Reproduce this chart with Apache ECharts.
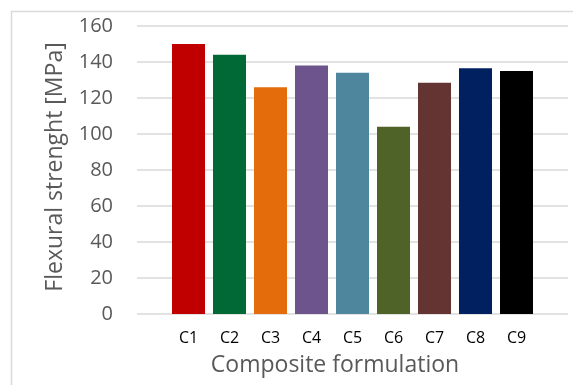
<!DOCTYPE html>
<html>
<head>
<meta charset="utf-8">
<script src="https://cdn.jsdelivr.net/npm/echarts@6/dist/echarts.min.js"></script>
<style>
  html, body { margin: 0; padding: 0; background: #fff; }
  #chart { width: 573px; height: 385px; }
</style>
</head>
<body>
<div id="chart"></div>
<script>
// Flexural strength per composite formulation
const categories = ['C1', 'C2', 'C3', 'C4', 'C5', 'C6', 'C7', 'C8', 'C9'];
const strength = [150, 144, 126, 138, 134, 104, 128.5, 136.5, 135];
const barColors = ['#C00000', '#006935', '#E46C0A', '#6D548D', '#4E869E',
                   '#4F6228', '#633431', '#002060', '#000000'];
const yTicks = { min: 0, max: 160, interval: 20 };

const FONT = '"Open Sans", "Liberation Sans", sans-serif';
const chart = echarts.init(document.getElementById('chart'), null, { renderer: 'canvas' });

chart.setOption({
  animation: false,
  backgroundColor: '#ffffff',
  graphic: [{
    type: 'rect',
    shape: { x: 11.5, y: 11.5, width: 620, height: 420 },
    style: { fill: 'none', stroke: '#d9d9d9', lineWidth: 1.5 },
    silent: true
  }],
  grid: [
    // full plot area: carries the value axis and its gridlines
    { left: 137, right: 5, top: 26, bottom: 71 },
    // inner band where the bars sit
    { left: 168, right: 36, top: 26, bottom: 71 }
  ],
  xAxis: [
    { gridIndex: 0, type: 'category', data: [''], show: false },
    {
      gridIndex: 1,
      type: 'category',
      data: categories,
      axisLine: { show: false },
      axisTick: { show: false },
      axisLabel: { color: '#000000', fontFamily: FONT, fontSize: 16, margin: 16 },
      name: 'Composite formulation',
      nameLocation: 'middle',
      nameGap: 40,
      nameTextStyle: { color: '#595959', fontFamily: FONT, fontSize: 23, padding: [0, 35, 0, 0] }
    }
  ],
  yAxis: [
    {
      gridIndex: 0,
      type: 'value',
      min: yTicks.min,
      max: yTicks.max,
      interval: yTicks.interval,
      axisLine: { show: false },
      axisTick: { show: false },
      splitLine: { lineStyle: { color: '#d9d9d9', width: 1.5 } },
      axisLabel: { color: '#595959', fontFamily: FONT, fontSize: 20, margin: 24 },
      name: 'Flexural strenght [MPa]',
      nameLocation: 'middle',
      nameGap: 70,
      nameTextStyle: { color: '#595959', fontFamily: FONT, fontSize: 23, padding: [0, 0, 0, 6] }
    },
    {
      gridIndex: 1,
      type: 'value',
      min: yTicks.min,
      max: yTicks.max,
      interval: yTicks.interval,
      show: false
    }
  ],
  series: [{
    type: 'bar',
    xAxisIndex: 1,
    yAxisIndex: 1,
    barCategoryGap: '19.5%',
    data: strength.map((v, i) => ({ value: v, itemStyle: { color: barColors[i] } }))
  }]
});
</script>
</body>
</html>
